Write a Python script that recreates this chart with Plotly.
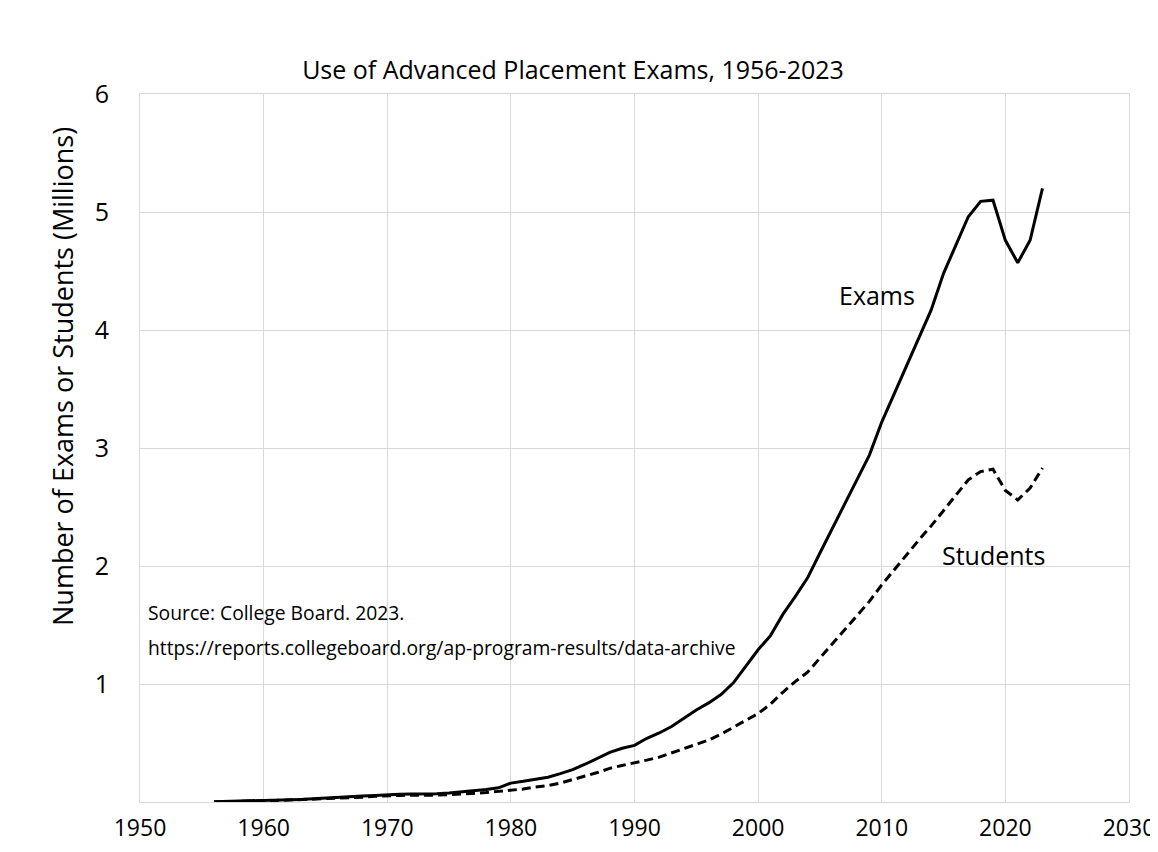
import plotly.graph_objects as go

years = list(range(1956, 2024))
exams = [0.002, 0.004, 0.006, 0.008, 0.011, 0.014, 0.018, 0.022, 0.027, 0.034,
         0.040, 0.044, 0.050, 0.055, 0.062, 0.065, 0.068, 0.066, 0.070, 0.076,
         0.085, 0.095, 0.106, 0.120, 0.160, 0.175, 0.190, 0.210, 0.240, 0.275,
         0.320, 0.370, 0.420, 0.455, 0.480, 0.540, 0.585, 0.640, 0.710, 0.780,
         0.840, 0.910, 1.010, 1.150, 1.290, 1.410, 1.590, 1.740, 1.900, 2.110,
         2.320, 2.530, 2.740, 2.940, 3.220, 3.460, 3.700, 3.940, 4.170, 4.480,
         4.720, 4.960, 5.090, 5.100, 4.760, 4.570, 4.760, 5.200]
students = [0.0012, 0.002, 0.004, 0.006, 0.010, 0.013, 0.016, 0.019, 0.023, 0.028,
            0.032, 0.037, 0.040, 0.048, 0.055, 0.056, 0.058, 0.055, 0.058, 0.061,
            0.066, 0.073, 0.080, 0.090, 0.100, 0.110, 0.127, 0.140, 0.160, 0.187,
            0.220, 0.250, 0.285, 0.310, 0.330, 0.355, 0.380, 0.415, 0.455, 0.490,
            0.525, 0.575, 0.635, 0.690, 0.750, 0.830, 0.930, 1.020, 1.100, 1.220,
            1.340, 1.460, 1.580, 1.700, 1.840, 1.970, 2.090, 2.220, 2.340, 2.470,
            2.600, 2.730, 2.800, 2.820, 2.640, 2.560, 2.660, 2.830]

x_ticks = [1950, 1960, 1970, 1980, 1990, 2000, 2010, 2020, 2030]
y_ticks = [1, 2, 3, 4, 5, 6]

FONT = "Open Sans"
OFF = 8  # page offset of the figure (body margin)
W, H = 1150, 844
L, R, T, B = 132, 29, 86, 50
pw, ph = W - L - R, H - T - B


def px(xpage):
    return (xpage - OFF - L) / pw


def py(ypage):
    return (H - B - (ypage - OFF)) / ph


fig = go.Figure()
fig.add_trace(go.Scatter(x=years, y=exams, mode="lines", name="Exams",
                         line=dict(color="black", width=3), showlegend=False))
fig.add_trace(go.Scatter(x=years, y=students, mode="lines", name="Students",
                         line=dict(color="black", width=3, dash="9px,5px"), showlegend=False))

fig.update_layout(
    width=W, height=H,
    margin=dict(l=L, r=R, t=T, b=B, autoexpand=False),
    paper_bgcolor="white",
    plot_bgcolor="white",
    font=dict(family=FONT, color="black"),
    title=dict(text="Use of Advanced Placement Exams, 1956-2023",
               xref="container", yref="container",
               x=(573 - OFF) / W, xanchor="center", y=1 - (70 - OFF) / H, yanchor="middle",
               font=dict(size=25, family=FONT, color="black")),
    annotations=[
        dict(text="Exams", x=2009.6, y=4.30, xref="x", yref="y", showarrow=False,
             font=dict(size=25, family=FONT, color="black")),
        dict(text="Students", x=2019.0, y=2.09, xref="x", yref="y", showarrow=False,
             font=dict(size=25, family=FONT, color="black")),
        dict(text="Source: College Board. 2023.",
             x=px(146), y=py(612), xref="paper", yref="paper", xanchor="left", yanchor="middle",
             showarrow=False, font=dict(size=19.3, family=FONT, color="black")),
        dict(text="https://reports.collegeboard.org/ap-program-results/data-archive",
             x=px(146), y=py(647), xref="paper", yref="paper", xanchor="left", yanchor="middle",
             showarrow=False, font=dict(size=19.3, family=FONT, color="black")),
        dict(text="Number of Exams or Students (Millions)", textangle=-90,
             x=px(62), y=py(377), xref="paper", yref="paper", xanchor="center", yanchor="middle",
             showarrow=False, font=dict(size=27, family=FONT, color="black")),
    ],
)
fig.update_xaxes(range=[1950, 2030], tickvals=x_ticks, ticktext=[str(v) for v in x_ticks],
                 showgrid=True, gridcolor="#d9d9d9", gridwidth=1,
                 showline=True, linecolor="#d9d9d9", linewidth=1, mirror=True,
                 ticks="outside", ticklen=5, tickcolor="rgba(0,0,0,0)", automargin=False,
                 tickfont=dict(size=23, family=FONT, color="black"), zeroline=False)
fig.update_yaxes(range=[0, 6], tickvals=y_ticks, ticktext=[str(v) for v in y_ticks],
                 showgrid=True, gridcolor="#d9d9d9", gridwidth=1,
                 showline=True, linecolor="#d9d9d9", linewidth=1, mirror=True,
                 ticks="outside", ticklen=25, tickcolor="rgba(0,0,0,0)", automargin=False,
                 tickfont=dict(size=25, family=FONT, color="black"), zeroline=False)

fig.write_html("out.html")
